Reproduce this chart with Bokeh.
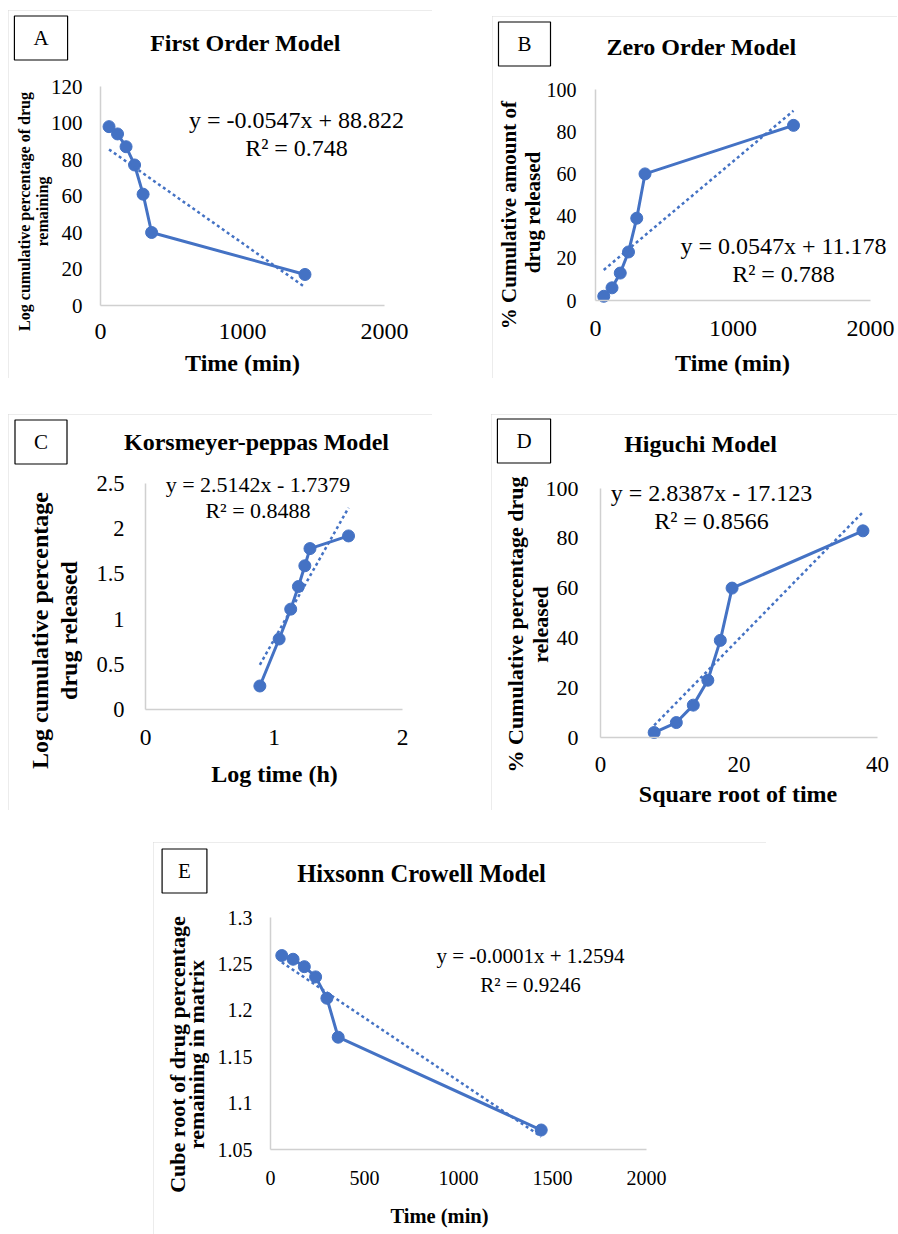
import math
import numpy as np
from bokeh.plotting import figure
from bokeh.layouts import column, row, Spacer
from bokeh.models import Label, FixedTicker
from bokeh.embed import file_html
from bokeh.resources import INLINE

# ---------------- data ----------------
time_min = [60, 120, 180, 240, 300, 360, 1440]
pct_remaining = [98, 94, 87, 77, 61, 40, 17]
pct_released = [2, 6, 13, 23, 39, 60, 83]
log_time_h = [0.89, 1.04, 1.13, 1.19, 1.24, 1.28, 1.58]
log_pct_released = [0.26, 0.78, 1.11, 1.36, 1.59, 1.78, 1.92]
sqrt_time = [7.75, 10.95, 13.4, 15.5, 17.3, 19.0, 37.9]
cube_root_remaining = [1.259, 1.255, 1.247, 1.236, 1.213, 1.171, 1.071]

panel_letters = ["A", "B", "C", "D", "E"]
titles = ["First Order Model", "Zero Order Model", "Korsmeyer-peppas Model",
          "Higuchi Model", "Hixsonn Crowell Model"]
x_titles = ["Time (min)", "Time (min)", "Log time (h)", "Square root of time", "Time (min)"]
y_titles = [["Log cumulative percentage of drug", "remaining"],
            ["% Cumulative  amount of", "drug released"],
            ["Log cumulative percentage", "drug released"],
            ["% Cumulative percentage drug", "released"],
            ["Cube root of drug percentage", "remaining in matrix"]]
equations = ["y = -0.0547x + 88.822", "y = 0.0547x + 11.178", "y = 2.5142x - 1.7379",
             "y = 2.8387x - 17.123", "y = -0.0001x + 1.2594"]
r_squared = ["R\u00b2 = 0.748", "R\u00b2 = 0.788", "R\u00b2 = 0.8488", "R\u00b2 = 0.8566", "R\u00b2 = 0.9246"]

xticks_A = [0, 1000, 2000]; xlabels_A = ["0", "1000", "2000"]
yticks_A = [0, 20, 40, 60, 80, 100, 120]; ylabels_A = ["0", "20", "40", "60", "80", "100", "120"]
xticks_B = [0, 1000, 2000]; xlabels_B = ["0", "1000", "2000"]
yticks_B = [0, 20, 40, 60, 80, 100]; ylabels_B = ["0", "20", "40", "60", "80", "100"]
xticks_C = [0, 1, 2]; xlabels_C = ["0", "1", "2"]
yticks_C = [0, 0.5, 1, 1.5, 2, 2.5]; ylabels_C = ["0", "0.5", "1", "1.5", "2", "2.5"]
xticks_D = [0, 20, 40]; xlabels_D = ["0", "20", "40"]
yticks_D = [0, 20, 40, 60, 80, 100]; ylabels_D = ["0", "20", "40", "60", "80", "100"]
xticks_E = [0, 500, 1000, 1500, 2000]; xlabels_E = ["0", "500", "1000", "1500", "2000"]
yticks_E = [1.05, 1.1, 1.15, 1.2, 1.25, 1.3]; ylabels_E = ["1.05", "1.1", "1.15", "1.2", "1.25", "1.3"]

BLUE = "#4472C4"
FONT = "Liberation Serif"


def make_panel(i, xs, ys, xticks, xlabels, yticks, ylabels, panel_box, axis_box, st):
    """panel_box: page rectangle of the bordered panel; axis_box: page pixels of
    (x of first x tick, y of top y tick, x of last x tick, y of bottom y tick)."""
    L, T, R, B = panel_box
    W, H = R - L, B - T
    px0, py1, px1, py0 = axis_box
    x0, x1 = xticks[0], xticks[-1]
    y0, y1 = yticks[0], yticks[-1]
    kx = (x1 - x0) / (px1 - px0)
    ky = (y1 - y0) / (py0 - py1)
    xr = (x0 - (px0 - L) * kx, x0 + (R - px0) * kx)
    yr = (y0 - (B - py0) * ky, y0 + (py0 - T) * ky)

    p = figure(width=W, height=H, x_range=xr, y_range=yr, min_border=0,
               output_backend="svg", toolbar_location=None,
               background_fill_color="white", border_fill_color="white",
               outline_line_color=None,
               styles={"outline": "1px solid #d9d9d9", "outline-offset": "-1px"})
    p.title.visible = False
    p.xgrid.visible = False
    p.ygrid.visible = False

    def to_data(qx, qy):
        return x0 + (qx - px0) * kx, y0 + (py0 - qy) * ky

    def text(txt, qx, qy, size, bold=False, angle=0.0, **kw):
        dx, dy = to_data(qx, qy)
        p.add_layout(Label(x=dx, y=dy, text=txt, text_font=FONT, text_font_size=size,
                           text_font_style="bold" if bold else "normal", angle=angle,
                           text_align="center", text_baseline="middle", text_color="black", **kw))

    axes = ((p.xaxis[0], xticks, xlabels, (x0, x1), y0, st["xt_size"], st["xt_so"]),
            (p.yaxis[0], yticks, ylabels, (y0, y1), x0, st["yt_size"], st["yt_so"]))
    for ax, ticks, labels, bnds, loc, fs, so in axes:
        ax.fixed_location = loc
        ax.ticker = FixedTicker(ticks=ticks)
        ax.bounds = bnds
        ax.major_label_overrides = {t: l for t, l in zip(ticks, labels)}
        ax.axis_line_color = "#d0d0d0"
        ax.axis_line_width = 1.5
        ax.major_tick_line_color = None
        ax.minor_tick_line_color = None
        ax.major_tick_in = 0
        ax.major_tick_out = 0
        ax.minor_tick_in = 0
        ax.minor_tick_out = 0
        ax.major_label_text_font = FONT
        ax.major_label_text_font_size = fs
        ax.major_label_text_color = "black"
        ax.major_label_standoff = so

    # data series
    p.line(xs, ys, color=BLUE, line_width=3)
    p.scatter(xs, ys, size=12, color=BLUE)
    # linear trendline from a least-squares fit of the data
    m, b = np.polyfit(np.array(xs, dtype=float), np.array(ys, dtype=float), 1)
    tx = [min(xs), max(xs)]
    ty = [m * t + b for t in tx]
    p.line(tx, ty, color=BLUE, line_width=2.5, line_dash="3 3")

    # letter box
    bx, by = st["box_pos"]
    hp = st["box_hpad"]
    text(panel_letters[i], bx, by, "21px", border_line_color="black", border_line_width=1.2,
         background_fill_color="white", padding=dict(left=hp, right=hp, top=10, bottom=10))
    # title
    text(titles[i], st["title_pos"][0], st["title_pos"][1], st["title_size"], bold=True)
    # axis titles
    text(x_titles[i], st["xl_pos"][0], st["xl_pos"][1], st["xl_size"], bold=True)
    for line_txt, lx in zip(y_titles[i], st["yl_x"]):
        text(line_txt, lx, st["yl_y"], st["yl_size"], bold=True, angle=math.pi / 2)
    # trendline equation
    text(equations[i], st["eq_x"], st["eq_y"][0], st["eq_size"])
    text(r_squared[i], st["eq_x"], st["eq_y"][1], st["eq_size"])
    return p


pA = make_panel(0, time_min, pct_remaining, xticks_A, xlabels_A, yticks_A, ylabels_A,
                (8, 10, 432, 378), (100, 86, 384, 305),
                dict(xt_size="24px", xt_so=18, yt_size="21px", yt_so=18,
                     xl_pos=(242, 362), xl_size="24px",
                     yl_x=(24, 42), yl_y=211, yl_size="16px",
                     title_pos=(245, 42), title_size="24px",
                     box_pos=(40.5, 37.5), box_hpad=19,
                     eq_x=296, eq_y=(119.5, 147.5), eq_size="24px"))
pB = make_panel(1, time_min, pct_released, xticks_B, xlabels_B, yticks_B, ylabels_B,
                (492, 16, 897, 378), (595, 89, 870, 300),
                dict(xt_size="24px", xt_so=20, yt_size="20px", yt_so=19,
                     xl_pos=(732, 362), xl_size="24px",
                     yl_x=(508, 532), yl_y=212, yl_size="21px",
                     title_pos=(701, 46), title_size="24px",
                     box_pos=(524, 43.5), box_hpad=19,
                     eq_x=783, eq_y=(245.5, 273.5), eq_size="24px"))
pC = make_panel(2, log_time_h, log_pct_released, xticks_C, xlabels_C, yticks_C, ylabels_C,
                (8, 414, 432, 810), (145, 483, 402, 709),
                dict(xt_size="23.5px", xt_so=20, yt_size="22.5px", yt_so=21,
                     xl_pos=(274, 773), xl_size="24px",
                     yl_x=(39, 68), yl_y=630, yl_size="24px",
                     title_pos=(256, 441), title_size="24px",
                     box_pos=(40.5, 441.5), box_hpad=19,
                     eq_x=257.5, eq_y=(484, 509.5), eq_size="22px"))
pD = make_panel(3, sqrt_time, pct_released, xticks_D, xlabels_D, yticks_D, ylabels_D,
                (491, 414, 897, 810), (600, 488, 877, 737),
                dict(xt_size="23px", xt_so=19, yt_size="22px", yt_so=22,
                     xl_pos=(737.5, 793), xl_size="24px",
                     yl_x=(515, 540), yl_y=624, yl_size="22px",
                     title_pos=(700, 443), title_size="24px",
                     box_pos=(523.5, 440.5), box_hpad=19,
                     eq_x=711, eq_y=(492.5, 520.5), eq_size="24px"))
pE = make_panel(4, time_min, cube_root_remaining, xticks_E, xlabels_E, yticks_E, ylabels_E,
                (153, 842, 766, 1234), (270, 917, 646, 1149),
                dict(xt_size="20px", xt_so=21, yt_size="20px", yt_so=18,
                     xl_pos=(439, 1215), xl_size="20.5px",
                     yl_x=(177, 196), yl_y=1054, yl_size="22px",
                     title_pos=(421, 873), title_size="24.5px",
                     box_pos=(184, 870.5), box_hpad=16,
                     eq_x=530, eq_y=(955.5, 984.5), eq_size="21px"))

layout = column(
    Spacer(width=10, height=10),
    row(Spacer(width=8, height=10), pA, Spacer(width=60, height=10),
        column(Spacer(width=405, height=6), pB)),
    Spacer(width=10, height=36),
    row(Spacer(width=8, height=10), pC, Spacer(width=59, height=10), pD),
    Spacer(width=10, height=32),
    row(Spacer(width=153, height=10), pE),
)

open("out.html", "w").write(file_html(layout, INLINE))
